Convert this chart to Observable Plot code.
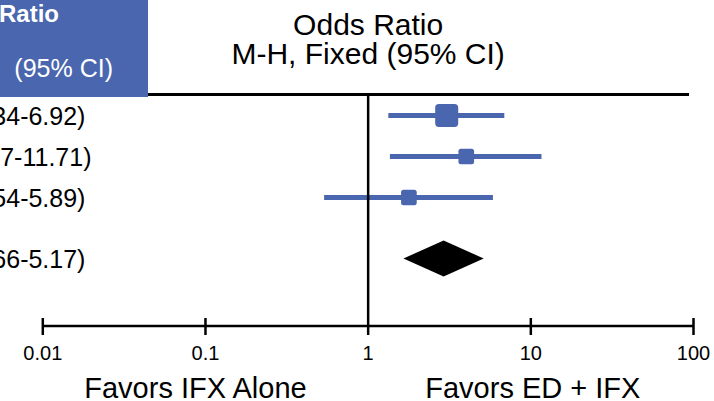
<!DOCTYPE html>
<html>
<head>
<meta charset="utf-8">
<script src="https://cdn.jsdelivr.net/npm/d3@7"></script>
<script src="https://cdn.jsdelivr.net/npm/@observablehq/plot@0.6"></script>
<style>
  html, body { margin: 0; padding: 0; background: white; }
  svg { display: block; }
</style>
</head>
<body>
<div id="chart"></div>
<script>
// ---- data ----
const studyOR = [3.04, 4.01, 1.78];
const studyLo = [1.34, 1.37, 0.54];
const studyHi = [6.92, 11.71, 5.89];
const studyWeight = [52, 24, 24];
const studyRow = [1, 2, 3];
const pooledOR = [2.93];
const pooledLo = [1.66];
const pooledHi = [5.17];
const pooledRow = [4.5];
const tickValues = [0.01, 0.1, 1, 10, 100];
const tickLabels = ["0.01", "0.1", "1", "10", "100"];
const favorLabels = ["Favors IFX Alone", "Favors ED + IFX"];
const favorAt = [0.1, 10];
const titleLines = ["Odds Ratio", "M-H, Fixed (95% CI)"];
const headerLines = ["Odds Ratio", "(95% CI)"];

const blue = "#4a66ae";
const font = "'Liberation Sans', Arial, Helvetica, sans-serif";

const fmt = v => v.toFixed(2);
const studies = studyOR.map((or, i) => ({or, lo: studyLo[i], hi: studyHi[i], w: studyWeight[i], row: studyRow[i]}));
const pooled = pooledOR.map((or, i) => ({or, lo: pooledLo[i], hi: pooledHi[i], row: pooledRow[i]}));
const allRows = [...studies, ...pooled].map(d => ({...d, label: `${fmt(d.or)} (${fmt(d.lo)}-${fmt(d.hi)})`}));

const roundedSquare = {
  draw(ctx, size) {
    const s = Math.sqrt(size), h = s / 2, c = s * 0.16;
    ctx.moveTo(-h + c, -h);
    ctx.lineTo(h - c, -h);
    ctx.arcTo(h, -h, h, -h + c, c);
    ctx.lineTo(h, h - c);
    ctx.arcTo(h, h, h - c, h, c);
    ctx.lineTo(-h + c, h);
    ctx.arcTo(-h, h, -h, h - c, c);
    ctx.lineTo(-h, -h + c);
    ctx.arcTo(-h, -h, -h + c, -h, c);
    ctx.closePath();
  }
};

const plot = Plot.plot({
  width: 714,
  height: 401,
  marginTop: 96,
  marginBottom: 83,
  marginLeft: 0,
  marginRight: 0,
  style: {fontFamily: font, fontSize: "20px", color: "black", background: "white"},
  x: {type: "log", domain: [0.01, 100], range: [42.3, 693]},
  y: {type: "linear", domain: [1, 4.5], range: [115, 258.5], axis: null},
  r: {type: "sqrt", domain: [0, 52], range: [0, 13]},
  marks: [
    Plot.ruleY(studies, {y: "row", x1: "lo", x2: "hi", stroke: blue, strokeWidth: 5}),
    Plot.dot(studies, {x: "or", y: "row", r: "w", symbol: roundedSquare, fill: blue, stroke: null}),
    Plot.ruleX([1], {stroke: "black", strokeWidth: 2.5}),
    Plot.axisX({ticks: tickValues, tickFormat: d => tickLabels[tickValues.indexOf(d)], anchor: "bottom",
      tickSize: 17, tickPadding: 10, fontSize: 20, label: null, stroke: "black", strokeWidth: 2.5}),
    Plot.text(allRows, {y: "row", text: "label", frameAnchor: "left", textAnchor: "middle",
      lineAnchor: "middle", fontSize: 25, dy: 1, dx: -4, fill: "black"}),
    Plot.text([titleLines[0]], {x: 1, frameAnchor: "top", text: d => d, lineAnchor: "middle",
      fontSize: 30, dy: -71, fill: "black", ariaLabel: "title"}),
    Plot.text([titleLines[1]], {x: 1, frameAnchor: "top", text: d => d, lineAnchor: "middle",
      fontSize: 30, dy: -42.5, fill: "black", ariaLabel: "title"}),
    Plot.text([favorLabels[0]], {x: favorAt[0], text: d => d, frameAnchor: "bottom", lineAnchor: "middle",
      fontSize: 29, dy: 70, dx: -10, fill: "black"}),
    Plot.text([favorLabels[1]], {x: favorAt[1], text: d => d, frameAnchor: "bottom", lineAnchor: "middle",
      fontSize: 29, dy: 70, dx: 2, fill: "black"})
  ]
});

const svg = d3.select(plot);
const xs = plot.scale("x"), ys = plot.scale("y");
svg.selectAll('g[aria-label="title"]').attr("letter-spacing", "0.8px");

// pooled diamond
for (const d of pooled) {
  const cy = ys.apply(d.row);
  svg.append("path")
    .attr("d", `M${xs.apply(d.lo)},${cy}L${xs.apply(d.or)},${cy - 18}L${xs.apply(d.hi)},${cy}L${xs.apply(d.or)},${cy + 18}Z`)
    .attr("fill", "black");
}
// axis baseline
svg.append("line")
  .attr("x1", xs.apply(tickValues[0])).attr("x2", xs.apply(tickValues[tickValues.length - 1]))
  .attr("y1", 326).attr("y2", 326)
  .attr("stroke", "black").attr("stroke-width", 2.5);
// header box and rule
const boxW = 148, boxH = 97;
svg.append("line")
  .attr("x1", boxW).attr("x2", xs.apply(100) - 4)
  .attr("y1", 94.5).attr("y2", 94.5)
  .attr("stroke", "black").attr("stroke-width", 3);
svg.append("rect").attr("x", 0).attr("y", 0).attr("width", boxW).attr("height", boxH).attr("fill", blue);
svg.append("text").text(headerLines[0])
  .attr("x", 59).attr("y", 21.5).attr("text-anchor", "end")
  .attr("font-weight", "bold").attr("font-size", 24).attr("fill", "white").attr("font-family", font);
svg.append("text").text(headerLines[1])
  .attr("x", 113).attr("y", 77).attr("text-anchor", "end")
  .attr("font-size", 25).attr("fill", "white").attr("font-family", font);

document.getElementById("chart").appendChild(plot);
</script>
</body>
</html>
